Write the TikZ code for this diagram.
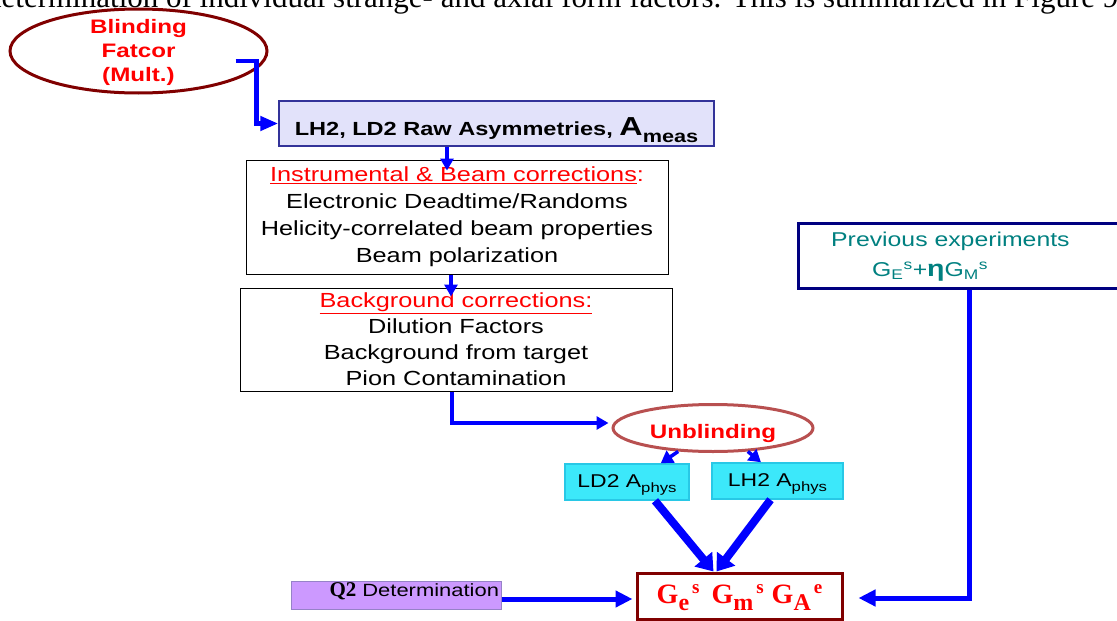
\documentclass[tikz,border=0pt]{standalone}
\usepackage{fontspec}
\setmainfont{Liberation Sans}[FakeStretch=1.24]
\newfontfamily\timesfont{Liberation Serif}
\usetikzlibrary{shapes.geometric,arrows.meta}

\definecolor{blindred}{RGB}{128,0,0}
\definecolor{unblindedge}{RGB}{184,80,80}
\definecolor{rawfill}{RGB}{226,226,250}
\definecolor{rawedge}{RGB}{51,51,153}
\definecolor{cyanfill}{RGB}{60,232,250}
\definecolor{cyanedge}{RGB}{40,200,230}
\definecolor{qfill}{RGB}{204,153,255}
\definecolor{qedge}{RGB}{150,130,200}
\definecolor{prevedge}{RGB}{0,0,128}
\definecolor{prevtext}{RGB}{0,128,128}

\newcommand{\fsize}[2]{\fontsize{#1}{#2}\selectfont}
% G with a lowered index and a raised one after it
\newcommand{\formfac}[2]{G\raisebox{-7pt}{\fsize{24}{24}#1}\hspace{3pt}\raisebox{10pt}{\fsize{19}{19}#2}}

\begin{document}
\begin{tikzpicture}[x=1pt, y=1pt,
  box/.style={draw, line width=1pt, inner sep=0pt, align=center},
  physbox/.style={draw=cyanedge, fill=cyanfill, line width=1.5pt, inner sep=0pt,
    minimum width=124pt, minimum height=36pt, text height=13pt, text depth=3pt, font=\fsize{18.5}{20}},
  arr/.style={draw=blue, line width=4pt, -{Triangle[length=12pt,width=13pt]}},
  smallarr/.style={draw=blue, line width=3.5pt, -{Triangle[length=12pt,width=14pt]}},
  midarr/.style={draw=blue, line width=5pt, -{Triangle[length=17pt,width=16pt]}},
  fatarr/.style={draw=blue, line width=8pt, -{Triangle[length=16pt,width=22pt]}}]
  \useasboundingbox (0,0) rectangle (1117,-621);

  % running text of the page, cut by the top edge
  \node (topline) [anchor=base west, inner sep=0pt, font=\timesfont\fsize{31}{31}] at (-14,-8)
    {determination of individual strange- and axial form factors. This is summarized in Figure 9};

  % blinding
  \node (blind) [ellipse, draw=blindred, line width=3pt, minimum width=257pt, minimum height=84pt, inner sep=0pt] at (138.5,-51) {};
  \node (blindtxt) [align=center, text=red, font=\bfseries\fsize{19.5}{24}] at (138.5,-52) {Blinding\\Fatcor\\(Mult.)};

  \node (raw) [box, draw=rawedge, fill=rawfill, line width=1.5pt, minimum width=435pt, minimum height=45pt,
    text height=23pt, text depth=0pt, font=\bfseries\fsize{19}{22}] at (496.5,-123.5)
    {LH2, LD2 Raw Asymmetries, {\fsize{26}{26}A}\raisebox{-7pt}{\fsize{17.5}{18}meas}};

  \node (instr) [box, minimum width=422pt, minimum height=114pt, font=\fsize{20.4}{27}] at (457,-217)
    {\textcolor{red}{\underline{Instrumental \& Beam corrections}:}\\Electronic Deadtime/Randoms\\Helicity-correlated beam properties\\Beam polarization};

  \node (bkg) [box, minimum width=432pt, minimum height=103pt, font=\fsize{20.4}{26}] at (456,-339.5)
    {\textcolor{red}{\underline{Background corrections:}}\\Dilution Factors\\Background from target\\Pion Contamination};

  \node (unblind) [ellipse, draw=unblindedge, line width=3pt, minimum width=200pt, minimum height=47pt, inner sep=0pt,
    text height=20pt, text depth=0pt, text=red, font=\bfseries\fsize{19.5}{20}] at (713,-428) {Unblinding};

  \node (ld2) [physbox] at (627,-482) {LD2 A\raisebox{-5pt}{\fsize{13.5}{14}phys}};
  \node (lh2) [physbox, minimum width=131pt] at (777.5,-481) {LH2 A\raisebox{-5pt}{\fsize{13.5}{14}phys}};

  \node (res) [draw=blindred, line width=3pt, fill=white, minimum width=205pt, minimum height=46pt, inner sep=0pt,
    text height=19pt, text depth=5pt, text=red, font=\timesfont\bfseries\fsize{28}{28}] at (739.5,-596)
    {\formfac{e}{s}\hspace{12pt}\formfac{m}{s}\hspace{8pt}\formfac{A}{e}};

  \node (q2) [draw=qedge, fill=qfill, line width=1pt, minimum width=210pt, minimum height=28pt, text width=206pt,
    text height=13pt, text depth=11pt, inner sep=2pt, align=right, font=\fsize{17.7}{20}] at (396,-595)
    {{\timesfont\bfseries\fsize{21}{21}Q2} Determination};

  % previous results, box runs past the right edge
  \node (prev) [draw=prevedge, line width=3pt, minimum width=342pt, minimum height=65pt] at (969,-255.5) {};
  \node (prevtxt) [anchor=west, align=left, inner sep=0pt, text=prevtext, font=\fsize{20}{30}] at (831,-257)
    {Previous experiments\\\hspace*{41pt}G\textsubscript{E}\textsuperscript{s}+\textbf{\fsize{23}{30}η}G\textsubscript{M}\textsuperscript{s}};

  % connectors
  \draw[arr, line width=4.5pt, -{Triangle[length=18pt,width=14pt]}] ([xshift=97pt,yshift=-10pt]blind.center) -| ([xshift=-22pt]raw.west) -- (raw.west);
  \draw[arr] ([xshift=-49.5pt]raw.south) -- ([xshift=-10pt,yshift=-11pt]instr.north);
  \draw[arr] ([xshift=-6pt]instr.south) -- ([xshift=-5pt,yshift=-9pt]bkg.north);
  \draw[arr] ([xshift=-4pt]bkg.south) |- ([xshift=-3pt,yshift=5pt]unblind.west);
  \draw[smallarr] (unblind.214) -- ([xshift=-29pt]ld2.north east);
  \draw[smallarr] (unblind.326) -- ([xshift=-16.5pt]lh2.north);
  \draw[fatarr] ([xshift=28pt]ld2.south) -- ([xshift=-26pt]res.north);
  \draw[fatarr] ([xshift=-7pt]lh2.south) -- ([xshift=-23pt]res.north);
  \draw[midarr, shorten >=3pt] ([yshift=-4pt]q2.east) -- ([yshift=-3pt]res.west);
  \draw[midarr] (prev.south) |- ([xshift=15pt,yshift=-2pt]res.east);
\end{tikzpicture}
\end{document}
